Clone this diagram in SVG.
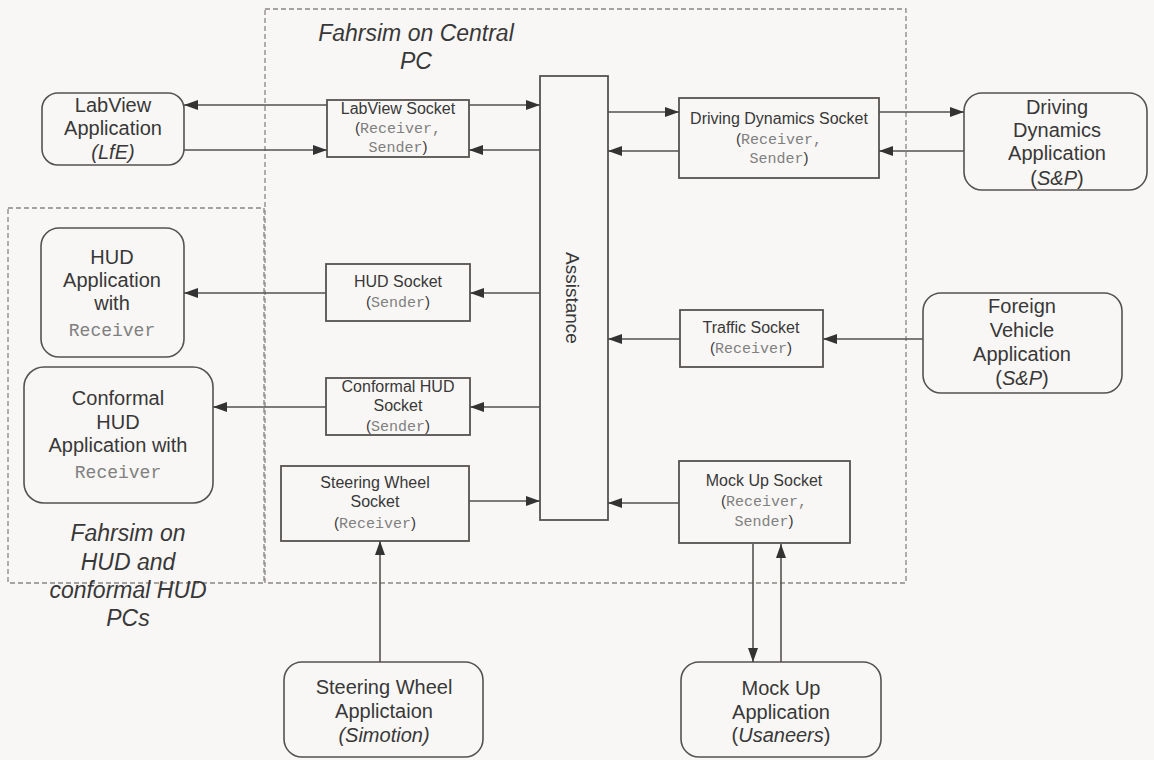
<svg xmlns="http://www.w3.org/2000/svg" width="1154" height="760" viewBox="0 0 1154 760">
<defs>
<marker id="ah" markerUnits="userSpaceOnUse" markerWidth="14" markerHeight="10" refX="14" refY="5" orient="auto">
<path d="M0,0 L14,5 L0,10 z" fill="#333"/>
</marker>
<style>
.bg{fill:#f8f7f5}
.grp{fill:none;stroke:#8a8684;stroke-width:1.3;stroke-dasharray:5 3}
.app{fill:#f8f7f5;stroke:#555250;stroke-width:1.6}
.sock{fill:#f8f7f5;stroke:#555250;stroke-width:1.8}
.t{font-family:"Liberation Sans",Arial,sans-serif;fill:#383838;text-anchor:middle}
.a{font-size:20px}
.s{font-size:16px}
.g{font-size:23px;font-style:italic}
.m{font-family:"Liberation Mono","Courier New",monospace;fill:#808080}
.ms{font-size:15px}
.ml{font-size:18px}
.i{font-style:italic}
.c{fill:none;stroke:#555250;stroke-width:1.6;marker-end:url(#ah)}
</style>
</defs>
<rect class="bg" x="0" y="0" width="1154" height="760"/>

<g id="group-central">
<rect class="grp" x="265" y="9" width="641" height="574"/>
<text class="t g" x="416" y="41">Fahrsim on Central</text>
<text class="t g" x="416" y="69">PC</text>
</g>
<g id="group-hud">
<rect class="grp" x="8" y="208" width="256" height="375"/>
<text class="t g" x="128" y="541">Fahrsim on</text>
<text class="t g" x="128" y="570">HUD and</text>
<text class="t g" x="128" y="598">conformal HUD</text>
<text class="t g" x="128" y="626">PCs</text>
</g>

<g id="assistance">
<rect class="sock" x="540" y="76" width="68" height="444"/>
<text class="t" font-size="19" transform="translate(573,298) rotate(90)" y="7">Assistance</text>
</g>

<g id="labview-app">
<rect class="app" x="42" y="93" width="142" height="72" rx="16"/>
<text class="t a" x="113" y="112">LabView</text>
<text class="t a" x="113" y="135">Application</text>
<text class="t a i" x="113" y="159">(LfE)</text>
</g>

<g id="labview-socket">
<rect class="sock" x="327" y="100" width="142" height="57"/>
<text class="t s" x="398" y="114">LabView Socket</text>
<text class="t ms" x="398" y="133"><tspan>(</tspan><tspan class="m">Receiver,</tspan></text>
<text class="t ms" x="398" y="152"><tspan class="m">Sender</tspan><tspan>)</tspan></text>
</g>

<g id="dd-socket">
<rect class="sock" x="679" y="98" width="200" height="80"/>
<text class="t s" x="779" y="124">Driving Dynamics Socket</text>
<text class="t ms" x="779" y="144"><tspan>(</tspan><tspan class="m">Receiver,</tspan></text>
<text class="t ms" x="779" y="163"><tspan class="m">Sender</tspan><tspan>)</tspan></text>
</g>

<g id="dd-app">
<rect class="app" x="964" y="93" width="183" height="97" rx="18"/>
<text class="t a" x="1057" y="114">Driving</text>
<text class="t a" x="1057" y="137">Dynamics</text>
<text class="t a" x="1057" y="160">Application</text>
<text class="t a" x="1057" y="185">(<tspan class="i">S&amp;P</tspan>)</text>
</g>

<g id="hud-app">
<rect class="app" x="41" y="228" width="143" height="129" rx="18"/>
<text class="t a" x="112" y="264">HUD</text>
<text class="t a" x="112" y="287">Application</text>
<text class="t a" x="112" y="310">with</text>
<text class="t m ml" x="112" y="336">Receiver</text>
</g>

<g id="hud-socket">
<rect class="sock" x="326" y="264" width="144" height="57"/>
<text class="t s" x="398" y="287">HUD Socket</text>
<text class="t ms" x="398" y="307"><tspan>(</tspan><tspan class="m">Sender</tspan><tspan>)</tspan></text>
</g>

<g id="conformal-socket">
<rect class="sock" x="326" y="378" width="144" height="57"/>
<text class="t s" x="398" y="392">Conformal HUD</text>
<text class="t s" x="398" y="411">Socket</text>
<text class="t ms" x="398" y="431"><tspan>(</tspan><tspan class="m">Sender</tspan><tspan>)</tspan></text>
</g>

<g id="conformal-app">
<rect class="app" x="24" y="367" width="189" height="136" rx="20"/>
<text class="t a" x="118" y="405">Conformal</text>
<text class="t a" x="118" y="429">HUD</text>
<text class="t a" x="118" y="452">Application with</text>
<text class="t m ml" x="118" y="478">Receiver</text>
</g>

<g id="traffic-socket">
<rect class="sock" x="680" y="310" width="143" height="57"/>
<text class="t s" x="751" y="333">Traffic Socket</text>
<text class="t ms" x="751" y="353"><tspan>(</tspan><tspan class="m">Receiver</tspan><tspan>)</tspan></text>
</g>

<g id="foreign-app">
<rect class="app" x="923" y="293" width="199" height="100" rx="18"/>
<text class="t a" x="1022" y="313">Foreign</text>
<text class="t a" x="1022" y="337">Vehicle</text>
<text class="t a" x="1022" y="361">Application</text>
<text class="t a" x="1022" y="385">(<tspan class="i">S&amp;P</tspan>)</text>
</g>

<g id="steering-socket">
<rect class="sock" x="281" y="466" width="188" height="75"/>
<text class="t s" x="375" y="488">Steering Wheel</text>
<text class="t s" x="375" y="507">Socket</text>
<text class="t ms" x="375" y="528"><tspan>(</tspan><tspan class="m">Receiver</tspan><tspan>)</tspan></text>
</g>

<g id="steering-app">
<rect class="app" x="284" y="662" width="199" height="95" rx="18"/>
<text class="t a" x="384" y="694">Steering Wheel</text>
<text class="t a" x="384" y="718">Applictaion</text>
<text class="t a i" x="384" y="742">(Simotion)</text>
</g>

<g id="mockup-socket">
<rect class="sock" x="679" y="461" width="171" height="82"/>
<text class="t s" x="764" y="486">Mock Up Socket</text>
<text class="t ms" x="764" y="506"><tspan>(</tspan><tspan class="m">Receiver,</tspan></text>
<text class="t ms" x="764" y="526"><tspan class="m">Sender</tspan><tspan>)</tspan></text>
</g>

<g id="mockup-app">
<rect class="app" x="681" y="662" width="200" height="95" rx="18"/>
<text class="t a" x="781" y="695">Mock Up</text>
<text class="t a" x="781" y="719">Application</text>
<text class="t a" x="781" y="742">(<tspan class="i">Usaneers</tspan>)</text>
</g>

<g id="connectors">
<path class="c" d="M327,105 H184"/>
<path class="c" d="M184,150 H327"/>
<path class="c" d="M469,105 H540"/>
<path class="c" d="M540,150 H469"/>
<path class="c" d="M608,112 H679"/>
<path class="c" d="M879,112 H964"/>
<path class="c" d="M964,151 H879"/>
<path class="c" d="M679,151 H608"/>
<path class="c" d="M540,293 H470"/>
<path class="c" d="M326,293 H184"/>
<path class="c" d="M540,407 H470"/>
<path class="c" d="M326,407 H213"/>
<path class="c" d="M923,339 H823"/>
<path class="c" d="M680,339 H608"/>
<path class="c" d="M469,501 H540"/>
<path class="c" d="M380,662 V541"/>
<path class="c" d="M679,503 H608"/>
<path class="c" d="M753,544 V662"/>
<path class="c" d="M781,662 V544"/>
</g>
</svg>
